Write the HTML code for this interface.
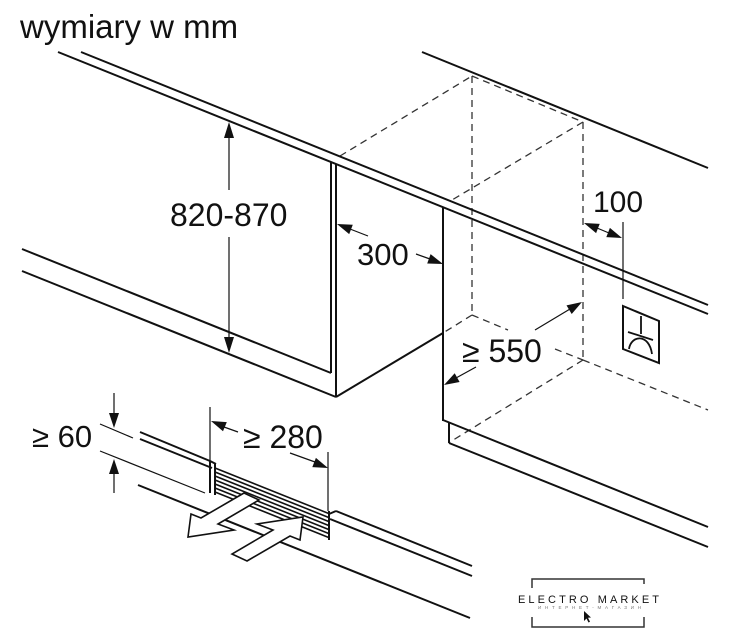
<!DOCTYPE html>
<html>
<head>
<meta charset="utf-8">
<style>
  html, body { margin: 0; padding: 0; background: #fff; }
  svg { display: block; }
  text { font-family: "Liberation Sans", Arial, sans-serif; fill: #111; }
</style>
</head>
<body>
<svg width="730" height="640" viewBox="0 0 730 640" xmlns="http://www.w3.org/2000/svg">
  <rect width="730" height="640" fill="#fff"/>

  <!-- Title -->
  <text x="20" y="38" font-size="33">wymiary w mm</text>

  <!-- Dashed niche lines -->
  <g stroke="#333" stroke-width="1.3" stroke-dasharray="7 5" fill="none">
    <line x1="340" y1="156" x2="472" y2="76"/>
    <line x1="472" y1="76" x2="583" y2="122"/>
    <line x1="472" y1="76" x2="472" y2="315"/>
    <line x1="583" y1="122" x2="583" y2="360"/>
    <line x1="583" y1="122" x2="452" y2="200"/>
    <line x1="472" y1="315" x2="443" y2="333"/>
    <line x1="472" y1="315" x2="508" y2="330"/>
    <line x1="555" y1="349" x2="583" y2="360"/>
    <line x1="583" y1="360" x2="708" y2="410"/>
    <line x1="583" y1="360" x2="450" y2="442"/>
  </g>

  <!-- Main solid lines -->
  <g stroke="#111" stroke-width="2" fill="none" stroke-linecap="butt">
    <!-- worktop -->
    <line x1="81" y1="52" x2="708" y2="305"/>
    <line x1="58" y1="52" x2="708" y2="314"/>
    <!-- back wall top -->
    <line x1="422" y1="52" x2="708" y2="168"/>
    <!-- left cabinet -->
    <line x1="331" y1="162" x2="331" y2="373"/>
    <line x1="336" y1="164" x2="336" y2="397"/>
    <line x1="22" y1="249" x2="331" y2="373"/>
    <line x1="22" y1="271" x2="336" y2="397"/>
    <line x1="336" y1="397" x2="443" y2="333"/>
    <!-- right cabinet -->
    <line x1="443" y1="207" x2="443" y2="421"/>
    <line x1="443" y1="420" x2="708" y2="527"/>
    <line x1="449" y1="422" x2="449" y2="443"/>
    <line x1="449" y1="443" x2="708" y2="547"/>

    <!-- bottom: left plinth piece -->
    <line x1="140" y1="432" x2="210" y2="461"/>
    <line x1="140" y1="439" x2="212" y2="468"/>
    <line x1="210" y1="461" x2="216" y2="464"/>
    <line x1="210" y1="461" x2="210" y2="493"/>
    <line x1="215" y1="464" x2="215" y2="495"/>
    <!-- grille right end -->
    <line x1="329" y1="511" x2="329" y2="540"/>
    <line x1="329" y1="514" x2="336" y2="511"/>
    <!-- right plinth piece -->
    <line x1="336" y1="511" x2="472" y2="566"/>
    <line x1="330" y1="519" x2="472" y2="576"/>
    <!-- floor line -->
    <line x1="138" y1="485" x2="470" y2="618"/>
  </g>

  <!-- Grille slats -->
  <g stroke="#111" stroke-width="1.6" fill="none">
    <line x1="215" y1="468" x2="329" y2="513.6"/>
    <line x1="215" y1="472" x2="329" y2="517.6"/>
    <line x1="215" y1="476" x2="329" y2="521.6"/>
    <line x1="215" y1="480" x2="329" y2="525.6"/>
    <line x1="215" y1="484" x2="329" y2="529.6"/>
    <line x1="215" y1="488" x2="329" y2="533.6"/>
    <line x1="215" y1="492" x2="329" y2="537.6"/>
  </g>

  <!-- Dimension lines (thin) -->
  <g stroke="#111" stroke-width="1.2" fill="none">
    <!-- 820-870 -->
    <line x1="229" y1="136" x2="229" y2="190"/>
    <line x1="229" y1="237" x2="229" y2="339"/>
    <!-- 300 -->
    <line x1="368" y1="236" x2="350" y2="229"/>
    <line x1="416" y1="254" x2="430" y2="259"/>
    <!-- 100 -->
    <line x1="623" y1="222" x2="623" y2="299"/>
    <line x1="597" y1="228" x2="609" y2="233"/>
    <!-- 550 -->
    <line x1="535" y1="330" x2="570" y2="309"/>
    <line x1="476" y1="367" x2="456" y2="378"/>
    <!-- 60 -->
    <line x1="114" y1="393" x2="114" y2="414"/>
    <line x1="114" y1="473" x2="114" y2="493"/>
    <line x1="100" y1="424" x2="133" y2="438"/>
    <line x1="100" y1="451" x2="205" y2="493"/>
    <!-- 280 -->
    <line x1="210" y1="407" x2="210" y2="461"/>
    <line x1="328" y1="452" x2="328" y2="511"/>
    <line x1="238" y1="432" x2="224" y2="427"/>
    <line x1="290" y1="453" x2="315" y2="462"/>
  </g>

  <!-- Arrowheads -->
  <g fill="#111" stroke="none">
    <polygon points="229,122 224,138 234,138"/>
    <polygon points="229,353 224,337 234,337"/>
    <polygon points="337,224 352.8,224.7 349.2,234.1"/>
    <polygon points="443,264 427.2,263.5 430.6,254.1"/>
    <polygon points="582,302 571.7,314 566.5,305.4"/>
    <polygon points="444,385 459.6,382 454.7,373.3"/>
    <polygon points="622,238 606.3,237.1 609.9,227.9"/>
    <polygon points="584,223 599.7,223.9 596.1,233.1"/>
    <polygon points="211,421 226.8,422.1 223,431.3"/>
    <polygon points="328,468 312.3,467.1 315.9,457.9"/>
    <polygon points="114,428 109,413 119,413"/>
    <polygon points="114,459 109,474 119,474"/>
  </g>

  <!-- Airflow arrows (white, outlined) -->
  <g fill="#fff" stroke="#111" stroke-width="1.6" stroke-linejoin="miter">
    <polygon points="244,493 201,518 191,514 188,537 234,530 218,524 259,500"/>
    <polygon points="247,561 290,536 300,540 303,517 257,524 273,530 232,554"/>
  </g>

  <!-- Socket symbol -->
  <g stroke="#111" fill="none">
    <polygon points="623,306 659,321 659,363 623,349" stroke-width="2"/>
    <line x1="641" y1="316" x2="641" y2="334" stroke-width="1.8"/>
    <line x1="628" y1="332" x2="653" y2="340" stroke-width="1.8"/>
    <path d="M629,349 C631,335 649,333 652,354" stroke-width="1.8"/>
  </g>

  <!-- Dimension texts -->
  <text x="170" y="226" font-size="32">820-870</text>
  <text x="357" y="265" font-size="31">300</text>
  <text x="593" y="212" font-size="30">100</text>
  <text x="462" y="362" font-size="32">≥ 550</text>
  <text x="32" y="447" font-size="31">≥ 60</text>
  <text x="243" y="448" font-size="32">≥ 280</text>

  <!-- Watermark -->
  <g stroke="#333" stroke-width="1.5" fill="none">
    <path d="M532,588 V579 H644 V584"/>
    <path d="M532,617 V627 H644 V617"/>
  </g>
  <text x="518" y="603" font-size="11" textLength="141" lengthAdjust="spacing" fill="#222">ELECTRO MARKET</text>
  <text x="538" y="609" font-size="4.5" textLength="103" lengthAdjust="spacing" style="fill:#777">ИНТЕРНЕТ-МАГАЗИН</text>
  <polygon points="584,611 584,621 586.5,618.5 588.5,622.5 590,621.8 588,617.8 591,617.5" fill="#111"/>
</svg>
</body>
</html>
